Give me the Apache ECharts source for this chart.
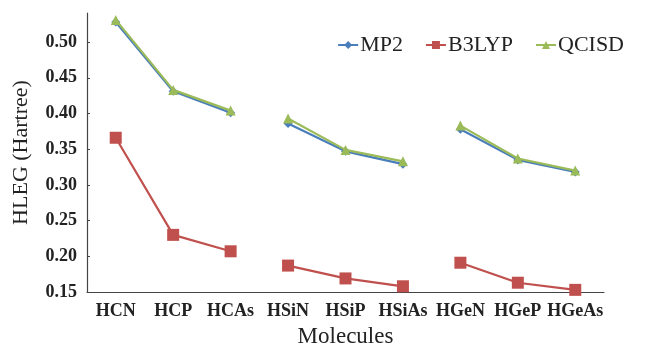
<!DOCTYPE html>
<html><head><meta charset="utf-8">
<script src="https://cdn.jsdelivr.net/npm/echarts@6/dist/echarts.min.js"></script>
<style>html,body{margin:0;padding:0;background:#fff}#c{width:646px;height:346px}</style>
</head><body><div id="c"></div>
<script>
const categories = ['HCN','HCP','HCAs','HSiN','HSiP','HSiAs','HGeN','HGeP','HGeAs'];
const mp2   = [0.528,0.431,0.401,0.386,0.347,0.329,0.378,0.335,0.318];
const b3lyp = [0.366,0.230,0.207,0.187,0.169,0.158,0.191,0.163,0.153];
const qcisd = [0.531,0.433,0.404,0.393,0.349,0.333,0.383,0.337,0.320];
const groups = [[0,3],[3,6],[6,9]];

const methods = [
  {name:'MP2', data:mp2, color:'#4a7ebb', symbol:'diamond', size:9},
  {name:'B3LYP', data:b3lyp, color:'#c0504d', symbol:'rect', size:12},
  {name:'QCISD', data:qcisd, color:'#9bbb59', symbol:'triangle', size:10}
];
const series = [];
methods.forEach(m => {
  groups.forEach(g => {
    series.push({
      name: m.name, type:'line', data: m.data.map((v,i)=> (i>=g[0]&&i<g[1])?v:null),
      symbol: m.symbol, symbolSize: m.size, showAllSymbol:true,
      itemStyle:{color:m.color}, lineStyle:{color:m.color,width:2.2},
      connectNulls:false, z: m.name==='QCISD'?3:2
    });
  });
});
const font = 'Liberation Serif';
const chart = echarts.init(document.getElementById('c'));
chart.setOption({
  animation:false,
  grid:{left:87,right:42,top:13,bottom:54,containLabel:false,outerBoundsMode:'none'},
  legend:{data:methods.map(m=>m.name), right:17, top:29, itemGap:22, itemWidth:20, itemHeight:10,
    textStyle:{fontFamily:font,fontSize:22,color:'#222',padding:[0,0,0,-3]}},
  xAxis:{type:'category', data:categories, boundaryGap:true,
    name:'Molecules', nameLocation:'middle', nameGap:33,
    nameTextStyle:{fontFamily:font,fontSize:23,color:'#222'},
    axisLine:{lineStyle:{color:'#444',width:1.2}},
    axisTick:{inside:true,length:4,interval:0,lineStyle:{color:'#444'}},
    axisLabel:{interval:0,fontFamily:font,fontSize:18,fontWeight:'bold',color:'#222',margin:10}},
  yAxis:{type:'value', min:0.15, max:0.5407, interval:0.05,
    name:'HLEG (Hartree)', nameLocation:'middle', nameGap:55,
    nameTextStyle:{fontFamily:font,fontSize:22,color:'#222'},
    axisLine:{show:true,lineStyle:{color:'#444',width:1.2}},
    axisTick:{show:true,inside:true,length:3,lineStyle:{color:'#444'}}, splitLine:{show:false},
    axisLabel:{fontFamily:font,fontSize:18,fontWeight:'bold',color:'#222',margin:10,showMaxLabel:false,
      formatter:v=>v.toFixed(2)}},
  series: series
});
</script></body></html>
